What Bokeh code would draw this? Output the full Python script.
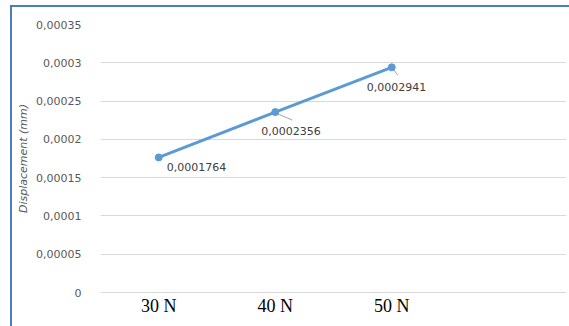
from bokeh.plotting import figure
from bokeh.models import ColumnDataSource, LabelSet, FixedTicker, CustomJSTickFormatter, Range1d
from bokeh.core.properties import value
from bokeh.embed import file_html
from bokeh.resources import INLINE

# Data
loads = ["30 N", "40 N", "50 N"]
displacement = [0.0001764, 0.0002356, 0.0002941]
y_ticks = [0, 0.00005, 0.0001, 0.00015, 0.0002, 0.00025, 0.0003, 0.00035]

x_pos = [i + 1 for i in range(len(loads))]
labels = [f"{v}".replace(".", ",") for v in displacement]

source = ColumnDataSource(dict(
    x=x_pos,
    y=displacement,
    label=labels,
    dx=[8, -14, -25],
    dy=[-10, -19, -20],
))

p = figure(
    width=557, height=319,
    output_backend="svg", toolbar_location=None,
    x_range=Range1d(0.5, 4.5), y_range=Range1d(0, 0.00035),
    min_border_left=88, min_border_right=3, min_border_top=17, min_border_bottom=34,
)
# Chart frame: blue rule along the top and the left edge, drawn outside the canvas
frame_color = "#4a7ebb"
p.margin = (7, 0, 0, 12)
p.styles = {
    "box-shadow": f"-2px 0 0 0 {frame_color}, 0 -2px 0 0 {frame_color}, -2px -2px 0 0 {frame_color}",
}
p.outline_line_color = None
p.background_fill_color = "white"
p.border_fill_color = "white"

# Grid
p.xgrid.grid_line_color = None
p.ygrid.grid_line_color = "#d9d9d9"
p.ygrid.grid_line_width = 1

# Y axis
p.yaxis.ticker = FixedTicker(ticks=y_ticks)
p.yaxis.formatter = CustomJSTickFormatter(
    code="return (Math.round(tick*1e5)/1e5).toString().replace('.', ',');")
p.yaxis.axis_line_color = None
p.yaxis.major_tick_line_color = None
p.yaxis.minor_tick_line_color = None
p.yaxis.major_label_standoff = 13
p.yaxis.major_label_text_font = "DejaVu Sans"
p.yaxis.major_label_text_font_size = "11px"
p.yaxis.major_label_text_color = "#595959"
p.yaxis.axis_label = "Displacement (mm)"
p.yaxis.axis_label_text_font = "DejaVu Sans"
p.yaxis.axis_label_text_font_style = "italic"
p.yaxis.axis_label_text_font_size = "11px"
p.yaxis.axis_label_text_color = "#595959"
p.yaxis.axis_label_standoff = 3

# X axis
p.xaxis.ticker = FixedTicker(ticks=x_pos)
p.xaxis.major_label_overrides = {x: name for x, name in zip(x_pos, loads)}
p.xaxis.axis_line_color = "#d9d9d9"
p.xaxis.major_tick_line_color = None
p.xaxis.minor_tick_line_color = None
p.xaxis.major_label_standoff = -3
p.xaxis.major_label_text_font = "Liberation Serif"
p.xaxis.major_label_text_font_size = "18px"
p.xaxis.major_label_text_color = "#000000"

# Leader lines from two of the points to their labels (pixel offsets converted to data)
frame_w, frame_h = 466, 268
px_x = (p.x_range.end - p.x_range.start) / frame_w
px_y = (p.y_range.end - p.y_range.start) / frame_h
lead = [(1, (3, -2), (17, -8)), (2, (1, -1), (6, -8))]
p.segment(
    x0=[x_pos[i] + a[0] * px_x for i, a, b in lead],
    y0=[displacement[i] + a[1] * px_y for i, a, b in lead],
    x1=[x_pos[i] + b[0] * px_x for i, a, b in lead],
    y1=[displacement[i] + b[1] * px_y for i, a, b in lead],
    line_color="#a6a6a6", line_width=1,
)

# Series
p.line("x", "y", source=source, line_color="#5b9bd5", line_width=3)
p.scatter("x", "y", source=source, size=7, fill_color="#5b9bd5", line_color="#5b9bd5")

p.add_layout(LabelSet(
    x="x", y="y", text="label", source=source,
    x_offset="dx", y_offset="dy",
    text_font=value("DejaVu Sans"), text_font_size="11px", text_color="#404040",
    text_align="left", text_baseline="middle",
))

open("out.html", "w").write(file_html(p, INLINE))
